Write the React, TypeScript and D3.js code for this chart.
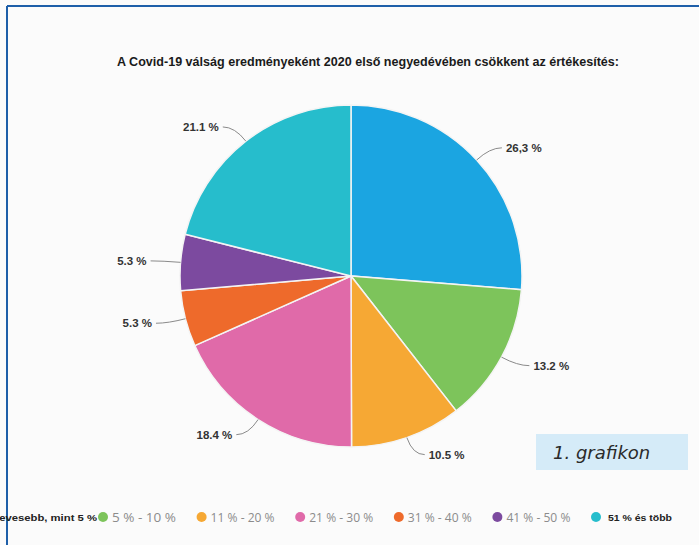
import React from 'react'
import * as d3 from 'd3'

const title = 'A Covid-19 válság eredményeként 2020 első negyedévében csökkent az értékesítés:'
const categories = ['Kevesebb, mint 5 %', '5 % - 10 %', '11 % - 20 %', '21 % - 30 %', '31 % - 40 %', '41 % - 50 %', '51 % és több']
const values = [26.3, 13.2, 10.5, 18.4, 5.3, 5.3, 21.1]
const valueLabels = ['26,3 %', '13.2 %', '10.5 %', '18.4 %', '5.3 %', '5.3 %', '21.1 %']
const colors = ['#1ba5e1', '#7dc45b', '#f6a834', '#e06aa9', '#ee6a2b', '#7c4a9f', '#26bdcc']

const W = 699, H = 545
const cx = 351, cy = 276, R = 171

export default function App() {
  const pie = d3.pie<number>().sort(null).value(d => d)
  const arcs = pie(values)
  const arc = d3.arc<d3.PieArcDatum<number>>().innerRadius(0).outerRadius(R)

  const legendX = d3.scaleLinear().domain([1, 6]).range([103, 596])

  return (
    <svg width={W} height={H} style={{position: 'absolute', left: 0, top: 0, background: '#fbfbfb'}}
      fontFamily="'Liberation Sans', Arial, sans-serif">
      <rect x={0} y={0} width={W} height={H} fill="#fbfbfb" />
      <line x1={7} y1={6} x2={W} y2={6} stroke="#1e5fa9" strokeWidth={2} />
      <line x1={7} y1={6} x2={7} y2={H} stroke="#1e5fa9" strokeWidth={2} />

      <text x={368} y={66} textAnchor="middle" fontSize={12} fontWeight="bold" fill="#1a1a1a"
        textLength={502} lengthAdjust="spacingAndGlyphs">{title}</text>

      <g transform={`translate(${cx},${cy})`}>
        {arcs.map((a, i) => (
          <path key={i} d={arc(a) || ''} fill={colors[i]} stroke="#f4f4f4" strokeWidth={1.5} />
        ))}
        {arcs.map((a, i) => {
          const mid = (a.startAngle + a.endAngle) / 2
          const right = Math.sin(mid) >= 0
          const p0 = [Math.sin(mid) * R, -Math.cos(mid) * R]
          const p1 = [Math.sin(mid) * (R + 18), -Math.cos(mid) * (R + 18)]
          const p2 = [p1[0] + (right ? 12 : -12), p1[1]]
          const path = d3.path()
          path.moveTo(p0[0], p0[1])
          path.quadraticCurveTo(p1[0], p1[1], p2[0], p2[1])
          return (
            <g key={i}>
              <path d={path.toString()} fill="none" stroke="#8a8a8a" strokeWidth={1} />
              <text x={p2[0] + (right ? 4 : -4)} y={p2[1] + 4} textAnchor={right ? 'start' : 'end'}
                fontSize={11.5} fontWeight="bold" fill="#333">{valueLabels[i]}</text>
            </g>
          )
        })}
      </g>

      <rect x={536} y={434} width={152} height={36} fill="#d5ebf8" />
      <text x={553} y={459} fontFamily="'DejaVu Sans', Verdana, sans-serif" fontStyle="italic"
        fontSize={18} fill="#2a2a2a">1. grafikon</text>

      <g>
        {categories.map((c, i) => {
          if (i === 0) {
            return (
              <g key={i}>
                <circle cx={-20} cy={517} r={5} fill={colors[i]} />
                <text x={legendX(1) - 6} y={521} textAnchor="end" fontSize={9.5} fontWeight="bold"
                  fill="#222" textLength={106} lengthAdjust="spacingAndGlyphs">{c}</text>
              </g>
            )
          }
          const x = legendX(i)
          const last = i === categories.length - 1
          return (
            <g key={i}>
              <circle cx={x} cy={517} r={5} fill={colors[i]} />
              {last ? (
                <text x={x + 12} y={521} fontSize={9.5} fontWeight="bold" fill="#222"
                  textLength={64} lengthAdjust="spacingAndGlyphs">{c}</text>
              ) : (
                <text x={x + 9} y={522} fontSize={13} fill="#8c8c8c"
                  fontFamily="'Open Sans', sans-serif" textLength={64}
                  lengthAdjust="spacingAndGlyphs">{c}</text>
              )}
            </g>
          )
        })}
      </g>
    </svg>
  )
}
